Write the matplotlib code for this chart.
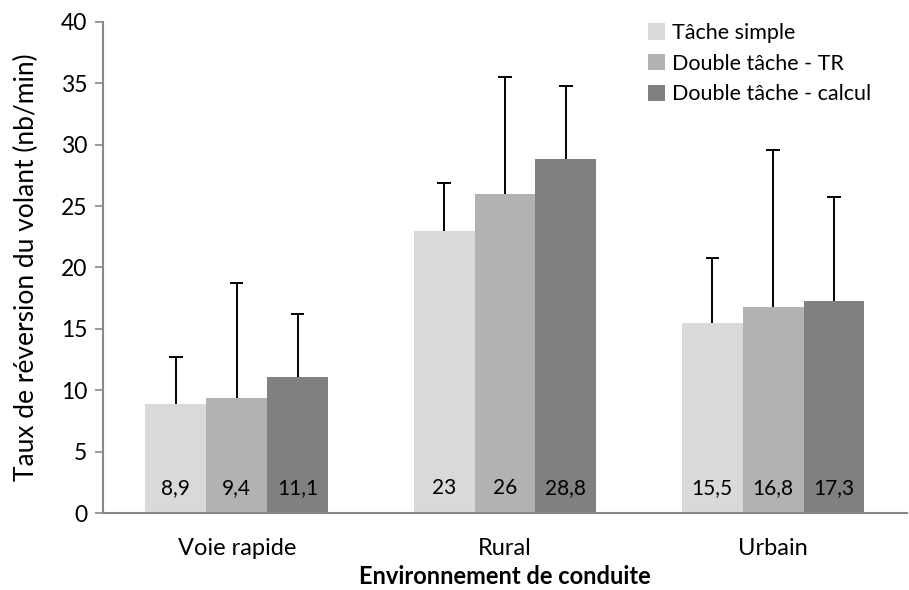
import matplotlib.pyplot as plt
import numpy as np

plt.rcParams['font.family'] = ['Lato', 'DejaVu Sans']

categories = ['Voie rapide', 'Rural', 'Urbain']
series = ['Tâche simple', 'Double tâche - TR', 'Double tâche - calcul']
means = [
    [8.9, 23, 15.5],
    [9.4, 26, 16.8],
    [11.1, 28.8, 17.3],
]
err_tops = [
    [12.7, 26.9, 20.75],
    [18.7, 35.5, 29.6],
    [16.2, 34.8, 25.7],
]
labels = [
    ['8,9', '23', '15,5'],
    ['9,4', '26', '16,8'],
    ['11,1', '28,8', '17,3'],
]
colors = ['#d9d9d9', '#b2b2b2', '#808080']

fig = plt.figure(figsize=(9.09, 5.90), dpi=100)
ax = fig.add_axes([0.113, 0.1305, 0.885, 0.8325])

x = np.arange(len(categories))
w = 0.227
cap = 0.025
for i in range(3):
    pos = x + (i - 1) * w
    ax.bar(pos, means[i], width=w, color=colors[i], label=series[i], zorder=2)
    # upper error bars only
    ax.vlines(pos, means[i], err_tops[i], color='black', lw=1.4, zorder=3)
    ax.hlines(err_tops[i], pos - cap, pos + cap, color='black', lw=1.4, zorder=3)
    for p, lab in zip(pos, labels[i]):
        ax.text(p, 2.0, lab, ha='center', va='center', fontsize=15, zorder=4)

ax.set_xlim(-0.5, 2.5)
ax.set_ylim(0, 40)
ax.set_yticks(range(0, 41, 5))
ax.set_xticks(x)
ax.set_xticklabels(categories, fontsize=17)
ax.tick_params(axis='y', labelsize=16.5, color='#888888', length=6, width=1.2, pad=5)
ax.tick_params(axis='x', length=0, pad=18)
for s in ['top', 'right']:
    ax.spines[s].set_visible(False)
for s in ['left', 'bottom']:
    ax.spines[s].set_color('#888888')
    ax.spines[s].set_linewidth(1.5)

ax.set_ylabel('Taux de réversion du volant (nb/min)', fontsize=19, labelpad=16)
ax.set_xlabel('Environnement de conduite', fontsize=17, fontweight='bold', labelpad=4)

ax.legend(loc='upper left', bbox_to_anchor=(0.664, 1.02), frameon=False, fontsize=15.5,
          borderpad=0, handlelength=0.8, handleheight=0.8, handletextpad=0.35,
          labelspacing=0.5)

fig.savefig('out.png', dpi=100)
